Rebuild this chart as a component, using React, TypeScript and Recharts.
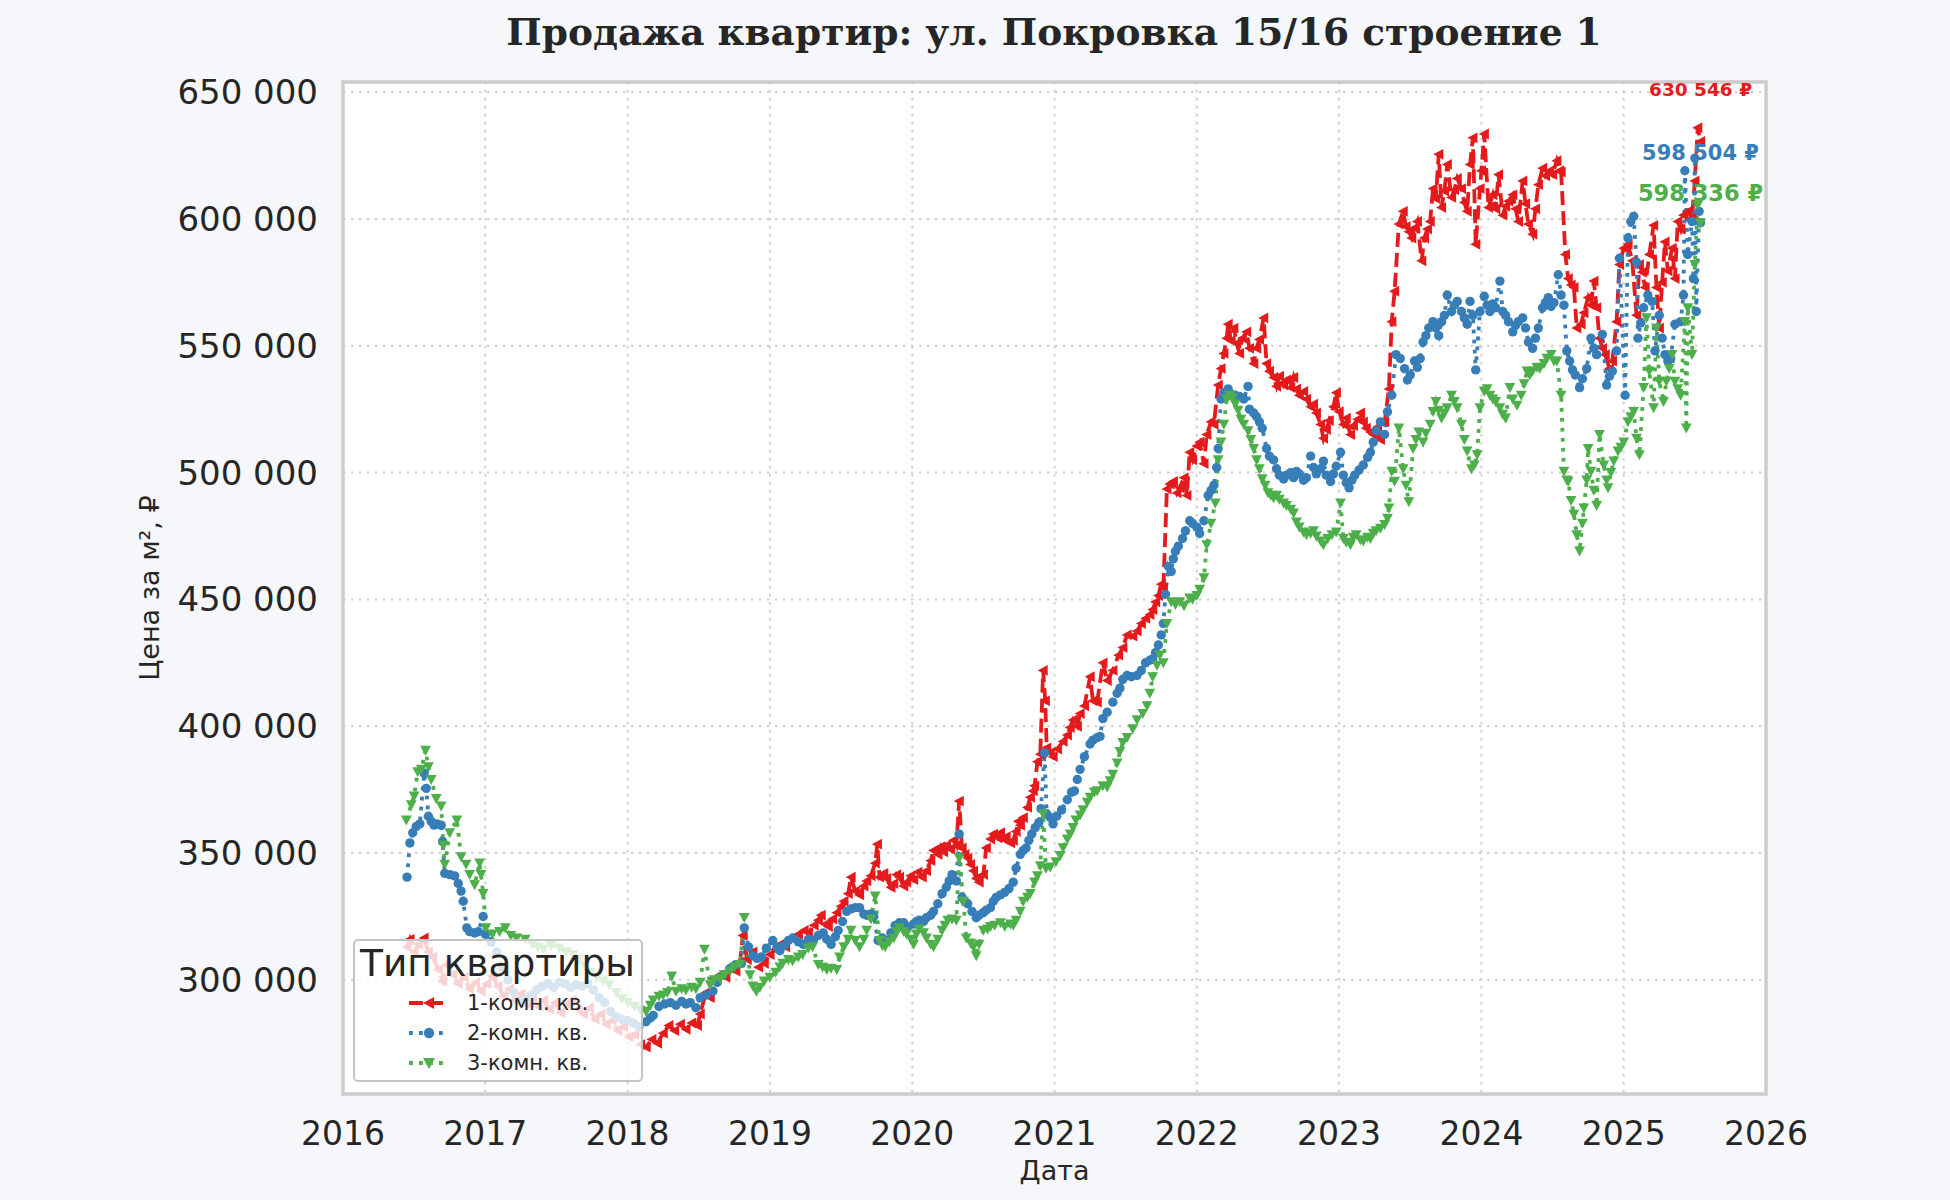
import React from 'react';
import { LineChart, Line, XAxis, YAxis, CartesianGrid, Legend, ReferenceDot, ReferenceArea } from 'recharts';

const TITLE = 'Продажа квартир: ул. Покровка 15/16 строение 1';
const X_LABEL = 'Дата';
const Y_LABEL = 'Цена за м², ₽';
const LEGEND_TITLE = 'Тип квартиры';
const SERIES_NAMES = ['1-комн. кв.', '2-комн. кв.', '3-комн. кв.'];
const SERIES_COLORS = ['#e41a1c', '#377eb8', '#4daf4a'];
const YEAR_TICKS = [2016, 2017, 2018, 2019, 2020, 2021, 2022, 2023, 2024, 2025, 2026];
const PRICE_TICKS = [300000, 350000, 400000, 450000, 500000, 550000, 600000, 650000];
const LAST_PRICE_LABELS = ['630 546 ₽', '598 504 ₽', '598 336 ₽'];
const LAST_PRICE_LABEL_Y = [651000, 626300, 610100];
const LAST_PRICE_LABEL_SIZE = [18.5, 21, 22.5];

// [fractional year, price per m²]
const oneRoom: [number, number][] = [
  [2016.45, 313000], [2016.47, 316000], [2016.50, 311000], [2016.53, 314000], [2016.57, 316500], [2016.60, 311000],
  [2016.63, 309000], [2016.67, 304000], [2016.70, 299500], [2016.73, 306000], [2016.77, 302000], [2016.81, 298500],
  [2016.85, 301000], [2016.89, 296500], [2016.93, 299000], [2016.97, 295500], [2017.01, 298500], [2017.05, 301500],
  [2017.09, 297500], [2017.13, 293500], [2017.17, 296500], [2017.21, 292000], [2017.25, 294500], [2017.29, 290500],
  [2017.33, 293500], [2017.37, 289500], [2017.41, 292000], [2017.45, 288500], [2017.49, 291000], [2017.53, 287000],
  [2017.57, 290500], [2017.61, 292000], [2017.65, 288500], [2017.69, 286500], [2017.73, 289000], [2017.77, 284500],
  [2017.81, 286500], [2017.85, 282500], [2017.89, 284000], [2017.93, 280000], [2017.97, 281500], [2018.01, 277500],
  [2018.05, 278500], [2018.09, 274500], [2018.13, 273500], [2018.17, 276500], [2018.21, 275000], [2018.25, 279000],
  [2018.29, 282000], [2018.33, 280000], [2018.37, 282500], [2018.41, 280500], [2018.45, 283000], [2018.49, 282000],
  [2018.51, 286500], [2018.55, 295000], [2018.58, 293000], [2018.61, 300500], [2018.65, 302000], [2018.69, 301000],
  [2018.72, 304500], [2018.76, 303500], [2018.79, 307000], [2018.81, 317500], [2018.84, 308000], [2018.88, 311000],
  [2018.92, 305000], [2018.96, 306500], [2019.00, 310000], [2019.04, 312000], [2019.07, 314000], [2019.11, 313000],
  [2019.16, 316500], [2019.20, 318000], [2019.24, 319500], [2019.27, 318500], [2019.31, 321500], [2019.34, 323500],
  [2019.36, 325500], [2019.39, 322000], [2019.41, 321000], [2019.44, 324000], [2019.47, 326500], [2019.50, 329000],
  [2019.52, 331000], [2019.55, 334000], [2019.57, 340500], [2019.60, 335000], [2019.63, 333500], [2019.66, 337000],
  [2019.68, 339000], [2019.71, 341000], [2019.74, 346000], [2019.755, 353500], [2019.77, 340500], [2019.80, 342000],
  [2019.82, 340000], [2019.85, 336500], [2019.87, 338000], [2019.89, 341500], [2019.91, 340500], [2019.94, 337000],
  [2019.96, 338500], [2019.99, 341000], [2020.01, 339500], [2020.04, 342500], [2020.07, 340500], [2020.10, 343000],
  [2020.13, 347000], [2020.15, 351000], [2020.18, 349500], [2020.20, 352500], [2020.22, 350500], [2020.24, 353000],
  [2020.27, 351500], [2020.29, 355000], [2020.31, 353000], [2020.33, 370500], [2020.35, 352000], [2020.37, 349500],
  [2020.39, 348000], [2020.41, 345500], [2020.43, 343000], [2020.45, 340000], [2020.47, 338500], [2020.50, 341500],
  [2020.52, 352000], [2020.55, 355500], [2020.57, 357500], [2020.60, 356000], [2020.62, 358000], [2020.64, 355500],
  [2020.66, 356500], [2020.69, 354000], [2020.71, 355000], [2020.73, 358500], [2020.745, 362500], [2020.76, 361000],
  [2020.78, 364000], [2020.81, 368000], [2020.83, 372000], [2020.85, 374500], [2020.86, 376500], [2020.88, 386000],
  [2020.90, 389000], [2020.92, 422000], [2020.935, 410000], [2020.945, 391500], [2020.97, 389500], [2020.99, 388000],
  [2021.02, 391000], [2021.06, 394000], [2021.09, 396500], [2021.11, 399500], [2021.13, 402500], [2021.16, 400000],
  [2021.18, 405000], [2021.21, 408000], [2021.25, 419500], [2021.27, 410000], [2021.30, 409500], [2021.34, 425000],
  [2021.37, 418000], [2021.41, 422000], [2021.45, 428000], [2021.48, 431000], [2021.51, 436000], [2021.55, 435500],
  [2021.58, 437500], [2021.61, 440500], [2021.64, 442500], [2021.67, 444000], [2021.69, 446000], [2021.71, 449000],
  [2021.73, 451500], [2021.75, 456000], [2021.765, 454500], [2021.79, 493500], [2021.81, 495500], [2021.835, 496500],
  [2021.86, 492000], [2021.88, 494000], [2021.91, 498000], [2021.93, 491000], [2021.95, 508000], [2021.97, 505000],
  [2022.00, 510500], [2022.02, 512000], [2022.05, 503500], [2022.07, 515000], [2022.10, 520000], [2022.12, 519000],
  [2022.15, 534500], [2022.17, 541000], [2022.19, 547000], [2022.21, 553000], [2022.22, 558500], [2022.24, 552000],
  [2022.26, 557000], [2022.28, 551000], [2022.30, 547000], [2022.32, 553000], [2022.35, 555500], [2022.37, 549000],
  [2022.40, 543000], [2022.42, 549000], [2022.44, 552500], [2022.47, 561000], [2022.49, 543000], [2022.51, 540000],
  [2022.54, 537500], [2022.56, 534000], [2022.58, 538000], [2022.61, 534500], [2022.63, 536500], [2022.66, 533500],
  [2022.68, 537500], [2022.70, 533000], [2022.72, 530500], [2022.75, 532000], [2022.77, 529000], [2022.80, 526000],
  [2022.82, 527000], [2022.84, 523500], [2022.87, 519000], [2022.89, 513500], [2022.91, 517000], [2022.93, 520500],
  [2022.96, 526000], [2022.98, 531500], [2023.00, 524000], [2023.03, 519000], [2023.05, 521500], [2023.08, 515000],
  [2023.10, 518500], [2023.13, 521000], [2023.15, 523500], [2023.17, 520000], [2023.19, 517500], [2023.22, 516000],
  [2023.24, 515000], [2023.27, 518000], [2023.29, 513000], [2023.32, 520000], [2023.35, 533000], [2023.37, 559500],
  [2023.39, 571500], [2023.42, 598000], [2023.45, 603000], [2023.47, 597000], [2023.49, 595000], [2023.51, 592500],
  [2023.53, 596500], [2023.55, 599000], [2023.58, 583500], [2023.60, 592500], [2023.62, 596000], [2023.64, 599000],
  [2023.66, 612000], [2023.68, 608000], [2023.70, 625500], [2023.72, 604500], [2023.74, 611000], [2023.76, 621500],
  [2023.79, 608500], [2023.81, 611500], [2023.83, 616000], [2023.86, 612000], [2023.88, 606500], [2023.90, 603000],
  [2023.92, 621500], [2023.94, 632000], [2023.96, 590000], [2023.99, 612000], [2024.00, 619000], [2024.02, 633500],
  [2024.05, 604500], [2024.08, 609500], [2024.10, 604000], [2024.12, 617500], [2024.15, 601500], [2024.17, 605000],
  [2024.19, 607000], [2024.22, 609500], [2024.24, 604000], [2024.26, 599000], [2024.29, 615000], [2024.31, 606000],
  [2024.33, 598000], [2024.36, 594000], [2024.38, 604000], [2024.40, 613500], [2024.43, 620000], [2024.45, 617000],
  [2024.48, 619000], [2024.50, 617500], [2024.53, 623000], [2024.55, 619000], [2024.56, 618500], [2024.59, 586000],
  [2024.61, 576500], [2024.63, 574000], [2024.65, 573000], [2024.67, 557000], [2024.70, 558500], [2024.72, 563000],
  [2024.75, 569000], [2024.77, 566000], [2024.79, 575500], [2024.81, 565000], [2024.83, 553000], [2024.85, 549000],
  [2024.87, 546500], [2024.90, 541000], [2024.92, 544000], [2024.95, 559500], [2024.97, 582000], [2025.00, 588500],
  [2025.03, 590000], [2025.06, 583500], [2025.09, 562000], [2025.11, 582000], [2025.13, 579000], [2025.15, 573000],
  [2025.18, 586000], [2025.21, 597500], [2025.23, 573000], [2025.25, 557000], [2025.27, 575000], [2025.29, 591000],
  [2025.31, 579500], [2025.34, 588500], [2025.36, 576500], [2025.38, 599000], [2025.40, 596000], [2025.42, 601500],
  [2025.45, 603000], [2025.48, 600500], [2025.50, 615000], [2025.52, 636000], [2025.54, 630546],
];

const twoRoom: [number, number][] = [
  [2016.45, 340500], [2016.47, 354000], [2016.49, 358000], [2016.515, 360500], [2016.54, 361500], [2016.57, 381500],
  [2016.585, 375500], [2016.60, 364500], [2016.62, 362500], [2016.64, 361000], [2016.66, 361500], [2016.69, 361000],
  [2016.70, 354500], [2016.715, 342000], [2016.75, 341500], [2016.785, 341000], [2016.81, 338000], [2016.83, 335000],
  [2016.845, 331000], [2016.87, 320500], [2016.89, 319000], [2016.925, 318500], [2016.95, 319000], [2016.985, 325000],
  [2017.00, 318000], [2017.04, 315000], [2017.08, 311000], [2017.12, 305000], [2017.16, 300000], [2017.20, 295000],
  [2017.24, 291500], [2017.28, 292000], [2017.32, 294000], [2017.36, 296000], [2017.40, 297500], [2017.44, 298500],
  [2017.48, 297000], [2017.52, 299000], [2017.56, 298500], [2017.60, 297000], [2017.64, 298000], [2017.68, 297500],
  [2017.72, 298500], [2017.76, 296000], [2017.80, 293000], [2017.84, 291000], [2017.88, 287500], [2017.92, 285500],
  [2017.96, 284500], [2018.00, 284000], [2018.04, 283000], [2018.08, 281500], [2018.13, 283500], [2018.16, 285000],
  [2018.18, 286000], [2018.22, 289500], [2018.26, 290500], [2018.30, 291000], [2018.34, 290000], [2018.38, 291500],
  [2018.41, 290500], [2018.44, 291000], [2018.48, 289000], [2018.51, 293000], [2018.55, 294000], [2018.60, 295500],
  [2018.63, 299000], [2018.67, 302000], [2018.72, 304500], [2018.76, 306000], [2018.80, 306500], [2018.82, 320500],
  [2018.85, 313000], [2018.88, 309500], [2018.91, 308500], [2018.94, 309000], [2018.975, 312500], [2019.02, 315500],
  [2019.05, 313000], [2019.07, 311500], [2019.10, 313500], [2019.13, 315500], [2019.16, 316500], [2019.20, 315000],
  [2019.235, 314000], [2019.27, 316000], [2019.305, 315500], [2019.34, 317500], [2019.375, 318500], [2019.40, 316000],
  [2019.43, 314000], [2019.46, 317000], [2019.48, 319500], [2019.51, 323000], [2019.54, 327000], [2019.57, 328000],
  [2019.60, 328500], [2019.63, 328500], [2019.66, 326000], [2019.68, 325500], [2019.71, 326000], [2019.73, 325000],
  [2019.76, 315500], [2019.79, 316500], [2019.82, 315500], [2019.85, 318500], [2019.88, 321500], [2019.91, 322500],
  [2019.94, 322500], [2019.97, 321000], [2020.01, 322000], [2020.03, 323000], [2020.05, 323500], [2020.08, 323000],
  [2020.10, 324500], [2020.13, 325500], [2020.15, 327000], [2020.18, 330000], [2020.21, 334000], [2020.24, 336500],
  [2020.26, 339000], [2020.28, 341500], [2020.31, 339000], [2020.33, 357500], [2020.35, 332500], [2020.37, 331000],
  [2020.39, 330000], [2020.42, 327000], [2020.45, 324500], [2020.47, 325500], [2020.50, 326500], [2020.52, 327500],
  [2020.55, 328500], [2020.57, 331000], [2020.59, 332500], [2020.62, 333500], [2020.65, 334500], [2020.68, 336000],
  [2020.71, 338500], [2020.73, 344000], [2020.76, 349500], [2020.78, 351000], [2020.80, 352000], [2020.82, 355000],
  [2020.84, 357500], [2020.865, 360000], [2020.89, 362000], [2020.905, 367500], [2020.93, 389500], [2020.945, 365500],
  [2020.97, 364000], [2020.99, 361500], [2021.015, 364500], [2021.05, 367000], [2021.09, 371000], [2021.12, 374000],
  [2021.14, 374500], [2021.16, 379000], [2021.18, 383000], [2021.21, 388000], [2021.25, 393000], [2021.27, 394500],
  [2021.30, 395500], [2021.32, 396000], [2021.34, 403000], [2021.37, 405500], [2021.41, 409500], [2021.44, 413000],
  [2021.46, 415000], [2021.48, 418500], [2021.51, 420000], [2021.54, 419500], [2021.58, 420000], [2021.61, 422000],
  [2021.64, 425000], [2021.67, 426000], [2021.69, 426500], [2021.71, 429000], [2021.73, 432000], [2021.75, 436000],
  [2021.765, 440500], [2021.78, 452000], [2021.80, 463000], [2021.82, 461000], [2021.835, 466000], [2021.85, 469000],
  [2021.87, 471000], [2021.90, 474000], [2021.92, 477000], [2021.95, 481000], [2021.97, 480000], [2022.00, 478500],
  [2022.02, 476000], [2022.05, 481000], [2022.08, 491000], [2022.10, 493000], [2022.12, 495000], [2022.14, 502000],
  [2022.15, 509500], [2022.17, 529000], [2022.19, 531500], [2022.22, 533000], [2022.24, 531000], [2022.27, 530500],
  [2022.30, 530000], [2022.33, 529000], [2022.36, 534000], [2022.37, 525000], [2022.40, 523500], [2022.42, 522000],
  [2022.44, 520000], [2022.46, 517500], [2022.49, 509500], [2022.51, 506500], [2022.54, 505000], [2022.56, 501500],
  [2022.58, 499000], [2022.61, 497500], [2022.63, 499000], [2022.66, 500000], [2022.68, 498000], [2022.70, 500500],
  [2022.72, 499500], [2022.75, 497000], [2022.77, 498000], [2022.80, 506500], [2022.82, 502000], [2022.84, 499500],
  [2022.87, 501500], [2022.89, 504500], [2022.91, 499000], [2022.94, 496500], [2022.96, 499500], [2022.98, 502500],
  [2023.01, 508000], [2023.03, 499000], [2023.05, 496000], [2023.07, 494000], [2023.09, 497000], [2023.11, 499000],
  [2023.14, 501000], [2023.17, 503000], [2023.20, 506000], [2023.22, 508000], [2023.24, 512000], [2023.26, 516500],
  [2023.29, 520000], [2023.32, 515000], [2023.34, 524000], [2023.37, 530500], [2023.40, 546500], [2023.43, 545000],
  [2023.46, 541000], [2023.48, 536500], [2023.50, 538500], [2023.53, 544000], [2023.55, 541500], [2023.57, 545000],
  [2023.59, 551500], [2023.61, 554000], [2023.63, 557000], [2023.66, 559500], [2023.68, 557000], [2023.70, 554000],
  [2023.72, 559500], [2023.74, 562000], [2023.76, 570000], [2023.79, 563500], [2023.81, 566000], [2023.83, 567500],
  [2023.86, 563500], [2023.88, 561000], [2023.90, 558500], [2023.92, 567500], [2023.94, 562000], [2023.96, 540500],
  [2023.99, 563500], [2024.02, 569500], [2024.04, 566000], [2024.06, 563500], [2024.08, 566500], [2024.10, 565000],
  [2024.13, 575500], [2024.15, 563500], [2024.17, 562000], [2024.19, 559500], [2024.22, 555500], [2024.24, 558000],
  [2024.26, 559500], [2024.29, 561000], [2024.31, 557000], [2024.33, 551500], [2024.36, 549000], [2024.38, 553000],
  [2024.40, 557000], [2024.43, 565000], [2024.45, 567000], [2024.47, 569000], [2024.49, 565500], [2024.51, 567000],
  [2024.54, 578000], [2024.56, 570000], [2024.58, 566000], [2024.60, 548000], [2024.62, 544000], [2024.64, 540500],
  [2024.66, 538500], [2024.69, 533500], [2024.71, 537000], [2024.74, 541000], [2024.77, 553000], [2024.79, 549000],
  [2024.81, 546500], [2024.85, 554500], [2024.88, 534500], [2024.90, 538000], [2024.92, 540000], [2024.95, 548000],
  [2024.97, 584500], [2025.01, 530500], [2025.03, 592500], [2025.05, 599000], [2025.07, 601000], [2025.09, 583000],
  [2025.10, 553000], [2025.12, 559000], [2025.14, 565000], [2025.17, 570000], [2025.20, 567500], [2025.22, 548000],
  [2025.25, 562000], [2025.27, 553000], [2025.29, 546500], [2025.31, 544000], [2025.33, 545000], [2025.36, 558500],
  [2025.40, 559500], [2025.42, 570000], [2025.43, 619000], [2025.45, 586000], [2025.48, 599000], [2025.49, 576500],
  [2025.50, 624000], [2025.51, 563500], [2025.53, 603000], [2025.54, 598504],
];

const threeRoom: [number, number][] = [
  [2016.445, 363000], [2016.48, 369000], [2016.50, 372500], [2016.525, 382000], [2016.55, 383000], [2016.58, 390500],
  [2016.60, 384000], [2016.62, 379000], [2016.655, 371500], [2016.69, 368500], [2016.705, 353000], [2016.715, 345500],
  [2016.75, 358000], [2016.80, 363000], [2016.83, 348500], [2016.865, 345500], [2016.89, 341500], [2016.925, 337500],
  [2016.96, 346000], [2016.97, 341500], [2016.985, 334000], [2017.005, 320500], [2017.05, 318000], [2017.10, 319000],
  [2017.14, 320500], [2017.18, 317500], [2017.22, 316500], [2017.28, 316000], [2017.33, 314000], [2017.37, 313000],
  [2017.41, 312000], [2017.46, 313500], [2017.52, 312500], [2017.57, 311000], [2017.62, 310000], [2017.66, 308000],
  [2017.70, 305500], [2017.74, 303000], [2017.78, 301000], [2017.83, 299500], [2017.87, 298000], [2017.92, 295000],
  [2017.96, 292500], [2018.00, 291000], [2018.05, 289500], [2018.09, 288000], [2018.13, 287500], [2018.16, 290000],
  [2018.18, 292000], [2018.22, 293500], [2018.25, 294000], [2018.28, 295000], [2018.31, 301500], [2018.34, 295500],
  [2018.38, 296500], [2018.41, 296000], [2018.45, 297000], [2018.48, 296500], [2018.51, 299000], [2018.54, 312000],
  [2018.58, 298000], [2018.61, 300000], [2018.65, 300500], [2018.68, 302000], [2018.72, 303500], [2018.75, 305000],
  [2018.79, 306000], [2018.82, 324500], [2018.86, 302000], [2018.88, 297500], [2018.905, 295500], [2018.93, 297000],
  [2018.96, 299500], [2019.00, 301000], [2019.04, 303000], [2019.07, 305000], [2019.09, 306500], [2019.13, 308000],
  [2019.16, 307500], [2019.20, 309000], [2019.23, 310000], [2019.27, 312500], [2019.30, 313000], [2019.34, 306000],
  [2019.37, 305000], [2019.40, 304000], [2019.43, 304500], [2019.47, 304000], [2019.49, 309000], [2019.52, 313000],
  [2019.55, 316000], [2019.57, 319500], [2019.60, 315500], [2019.63, 313000], [2019.66, 316000], [2019.68, 319500],
  [2019.71, 324000], [2019.74, 333000], [2019.77, 315500], [2019.79, 313500], [2019.81, 313000], [2019.84, 315000],
  [2019.87, 316500], [2019.89, 319000], [2019.91, 320500], [2019.94, 319000], [2019.96, 318000], [2019.99, 316000],
  [2020.01, 314000], [2020.03, 318000], [2020.05, 320000], [2020.08, 318500], [2020.10, 316500], [2020.13, 314000],
  [2020.15, 313000], [2020.18, 316000], [2020.21, 319500], [2020.23, 321500], [2020.25, 323500], [2020.28, 324000],
  [2020.31, 323500], [2020.33, 348000], [2020.36, 331000], [2020.38, 316500], [2020.41, 314500], [2020.43, 313000],
  [2020.45, 309500], [2020.47, 314000], [2020.50, 319500], [2020.53, 320000], [2020.55, 321000], [2020.58, 321500],
  [2020.62, 322500], [2020.65, 321000], [2020.69, 322000], [2020.71, 321500], [2020.73, 323500], [2020.76, 327000],
  [2020.78, 331000], [2020.81, 332500], [2020.83, 334000], [2020.86, 338500], [2020.88, 341000], [2020.90, 345000],
  [2020.92, 365500], [2020.94, 344000], [2020.97, 344500], [2021.01, 346500], [2021.04, 349000], [2021.06, 352000],
  [2021.09, 355500], [2021.11, 357500], [2021.13, 360000], [2021.15, 363000], [2021.18, 365000], [2021.20, 367000],
  [2021.23, 370000], [2021.25, 372000], [2021.28, 374000], [2021.30, 374500], [2021.34, 376500], [2021.37, 376000],
  [2021.39, 378500], [2021.41, 381000], [2021.44, 385500], [2021.46, 390000], [2021.48, 393500], [2021.51, 395500],
  [2021.55, 399000], [2021.58, 402500], [2021.62, 405000], [2021.65, 408000], [2021.67, 413000], [2021.69, 419500],
  [2021.72, 424000], [2021.74, 428000], [2021.765, 425000], [2021.79, 440500], [2021.82, 449000], [2021.85, 448000],
  [2021.88, 449000], [2021.91, 447500], [2021.95, 450500], [2021.97, 450000], [2022.00, 451500], [2022.02, 454000],
  [2022.05, 458500], [2022.07, 471500], [2022.10, 480000], [2022.13, 488000], [2022.15, 505000], [2022.17, 512000],
  [2022.19, 519000], [2022.21, 529000], [2022.23, 530500], [2022.25, 529500], [2022.27, 527000], [2022.29, 524500],
  [2022.31, 521000], [2022.33, 519000], [2022.36, 516500], [2022.38, 513000], [2022.40, 509500], [2022.42, 505000],
  [2022.44, 501500], [2022.46, 497500], [2022.48, 495000], [2022.50, 492000], [2022.52, 491000], [2022.54, 490000],
  [2022.56, 491000], [2022.58, 489500], [2022.61, 488000], [2022.63, 487000], [2022.66, 485500], [2022.68, 484000],
  [2022.70, 480500], [2022.72, 478500], [2022.75, 476500], [2022.77, 475500], [2022.80, 476000], [2022.82, 477000],
  [2022.84, 475000], [2022.87, 473000], [2022.89, 471500], [2022.92, 474000], [2022.95, 475500], [2022.98, 476500],
  [2023.01, 488000], [2023.03, 474000], [2023.05, 472500], [2023.08, 471500], [2023.10, 474500], [2023.12, 475500],
  [2023.15, 473500], [2023.17, 473000], [2023.20, 474500], [2023.22, 474000], [2023.24, 476000], [2023.26, 477000],
  [2023.29, 478000], [2023.32, 479500], [2023.34, 482000], [2023.35, 486000], [2023.37, 500500], [2023.39, 496500],
  [2023.42, 517500], [2023.45, 501500], [2023.47, 495000], [2023.49, 488500], [2023.52, 509500], [2023.54, 513000],
  [2023.56, 516000], [2023.59, 512000], [2023.61, 515500], [2023.64, 519000], [2023.66, 524000], [2023.68, 528000],
  [2023.70, 524500], [2023.72, 521500], [2023.74, 523500], [2023.76, 525500], [2023.79, 530500], [2023.81, 528000],
  [2023.83, 525500], [2023.86, 519000], [2023.88, 513000], [2023.90, 508500], [2023.93, 501500], [2023.95, 503000],
  [2023.97, 507000], [2023.99, 525500], [2024.02, 532000], [2024.04, 533000], [2024.06, 530500], [2024.08, 529000],
  [2024.10, 528000], [2024.13, 525500], [2024.15, 523000], [2024.17, 521500], [2024.20, 533500], [2024.22, 529000],
  [2024.25, 526500], [2024.28, 530500], [2024.30, 535000], [2024.32, 540000], [2024.34, 538500], [2024.36, 540000],
  [2024.39, 541500], [2024.41, 541000], [2024.44, 543000], [2024.46, 545000], [2024.49, 546500], [2024.51, 544000],
  [2024.53, 544000], [2024.56, 530500], [2024.58, 500500], [2024.60, 497000], [2024.61, 496500], [2024.63, 489000],
  [2024.65, 483500], [2024.67, 475500], [2024.69, 469000], [2024.71, 480000], [2024.72, 486000], [2024.74, 497000],
  [2024.75, 509500], [2024.77, 500500], [2024.79, 493000], [2024.81, 487000], [2024.83, 515000], [2024.86, 503000],
  [2024.88, 497000], [2024.89, 494000], [2024.91, 500000], [2024.93, 504500], [2024.96, 508500], [2024.98, 510000],
  [2025.00, 512000], [2025.03, 520000], [2025.05, 522000], [2025.07, 524000], [2025.09, 513500], [2025.11, 507000],
  [2025.14, 533500], [2025.16, 561000], [2025.18, 540000], [2025.21, 525500], [2025.23, 557000], [2025.25, 536000],
  [2025.28, 528000], [2025.30, 536000], [2025.32, 541000], [2025.34, 546500], [2025.36, 536000], [2025.38, 533000],
  [2025.40, 530500], [2025.43, 559500], [2025.44, 517500], [2025.45, 565000], [2025.48, 546500], [2025.50, 582000],
  [2025.52, 605500], [2025.54, 598336],
];

const SERIES = [oneRoom, twoRoom, threeRoom];
const toRows = (s: [number, number][]) => s.map(([x, y]) => ({ x, y }));

const TEXT = '#262626';
const FONT = '"DejaVu Sans", sans-serif';

type Kind = 'left' | 'circle' | 'down';
const KINDS: Kind[] = ['left', 'circle', 'down'];
const DASHES = ['14 6', '3.8 6.2', '3.8 6.2'];

function markerShape(kind: Kind, cx: number, cy: number, color: string, s: number, key?: string) {
  if (kind === 'circle') return <circle key={key} cx={cx} cy={cy} r={4.7 * s} fill={color} />;
  if (kind === 'left')
    return (
      <polygon
        key={key}
        points={`${cx - 5.4 * s},${cy} ${cx + 4.6 * s},${cy - 5.4 * s} ${cx + 4.6 * s},${cy + 5.4 * s}`}
        fill={color}
      />
    );
  return (
    <polygon
      key={key}
      points={`${cx - 5.4 * s},${cy - 4.6 * s} ${cx + 5.4 * s},${cy - 4.6 * s} ${cx},${cy + 5.4 * s}`}
      fill={color}
    />
  );
}

const makeDot = (kind: Kind, color: string) => (props: any) => {
  const { cx, cy, index } = props;
  const key = `${kind}-${index}`;
  if (cx == null || cy == null || Number.isNaN(cx) || Number.isNaN(cy)) return <g key={key} />;
  return markerShape(kind, cx, cy, color, 1, key);
};

function LegendBox() {
  return (
    <div
      style={{
        boxSizing: 'border-box',
        width: 290,
        height: 143,
        background: 'rgba(255,255,255,0.8)',
        border: '2.5px solid #c4c4c4',
        borderRadius: 5,
        position: 'relative',
        fontFamily: FONT,
        color: TEXT,
      }}
    >
      <div style={{ position: 'absolute', left: 5, top: 1, fontSize: 37.5, lineHeight: '42px', whiteSpace: 'nowrap' }}>
        {LEGEND_TITLE}
      </div>
      {SERIES_NAMES.map((name, i) => (
        <div key={name} style={{ position: 'absolute', left: 0, top: 50 + i * 30, height: 24, width: 280 }}>
          <svg width={50} height={24} style={{ position: 'absolute', left: 52, top: 0 }}>
            <line x1={2} y1={12} x2={42} y2={12} stroke={SERIES_COLORS[i]} strokeWidth={3.8} strokeDasharray={DASHES[i]} />
            {markerShape(KINDS[i], 22, 12, SERIES_COLORS[i], 1.1)}
          </svg>
          <div style={{ position: 'absolute', left: 112, top: 0, fontSize: 21, lineHeight: '24px', whiteSpace: 'nowrap' }}>
            {name}
          </div>
        </div>
      ))}
    </div>
  );
}

const fmtPrice = (v: number) => String(Math.round(v)).replace(/\B(?=(\d{3})+(?!\d))/g, ' ');

export default function App() {
  return (
    <div style={{ position: 'fixed', left: 0, top: 0, width: 1950, height: 1200, background: '#f5f7fa', overflow: 'hidden' }}>
      <div
        style={{
          position: 'absolute',
          left: 354,
          width: 1400,
          top: 10,
          textAlign: 'center',
          fontFamily: '"DejaVu Serif", serif',
          fontWeight: 'bold',
          fontSize: 37.5,
          color: TEXT,
          whiteSpace: 'nowrap',
        }}
      >
        {TITLE}
      </div>
      <LineChart width={1950} height={1200} margin={{ top: 82, right: 184, left: 143, bottom: 46 }}>
        <CartesianGrid stroke="#cfcfcf" strokeWidth={2} strokeDasharray="2.5 5.5" fill="#ffffff" />
        <XAxis
          type="number"
          dataKey="x"
          domain={[2016, 2026]}
          ticks={YEAR_TICKS}
          interval={0}
          allowDataOverflow
          height={60}
          tickLine={false}
          axisLine={false}
          tickSize={0}
          tickMargin={28}
          tick={{ fontSize: 33, fill: TEXT, fontFamily: FONT }}
          tickFormatter={(v: number) => String(v)}
          label={{ value: X_LABEL, position: 'bottom', offset: 7, fontSize: 27, fill: TEXT, fontFamily: FONT }}
        />
        <YAxis
          type="number"
          domain={[255000, 654000]}
          ticks={PRICE_TICKS}
          interval={0}
          allowDataOverflow
          width={200}
          tickLine={false}
          axisLine={false}
          tickSize={0}
          tickMargin={25}
          tick={{ fontSize: 34, fill: TEXT, fontFamily: FONT }}
          tickFormatter={fmtPrice}
          label={{
            value: Y_LABEL,
            angle: -90,
            position: 'insideLeft',
            offset: 6,
            fontSize: 27,
            fill: TEXT,
            fontFamily: FONT,
            style: { textAnchor: 'middle' },
          }}
        />
        <ReferenceArea
          x1={2016}
          x2={2026}
          y1={255000}
          y2={654000}
          fill="none"
          stroke="#cccccc"
          strokeWidth={3.5}
          ifOverflow="visible"
        />
        {SERIES.map((s, i) => (
          <Line
            key={SERIES_NAMES[i]}
            name={SERIES_NAMES[i]}
            data={toRows(s)}
            dataKey="y"
            type="linear"
            stroke={SERIES_COLORS[i]}
            strokeWidth={3.8}
            strokeDasharray={DASHES[i]}
            dot={makeDot(KINDS[i], SERIES_COLORS[i])}
            activeDot={false}
            isAnimationActive={false}
          />
        ))}
        {SERIES.map((s, i) => (
          <ReferenceDot
            key={`lab-${i}`}
            x={s[s.length - 1][0]}
            y={LAST_PRICE_LABEL_Y[i]}
            r={0}
            fill="none"
            stroke="none"
            ifOverflow="visible"
            label={{
              value: LAST_PRICE_LABELS[i],
              position: 'center',
              fill: SERIES_COLORS[i],
              fontSize: LAST_PRICE_LABEL_SIZE[i],
              fontWeight: 'bold',
              fontFamily: FONT,
            }}
          />
        ))}
        <Legend
          layout="vertical"
          align="center"
          verticalAlign="middle"
          content={() => <LegendBox />}
          wrapperStyle={{ left: 353, top: 939, width: 290, height: 143 }}
        />
      </LineChart>
    </div>
  );
}
